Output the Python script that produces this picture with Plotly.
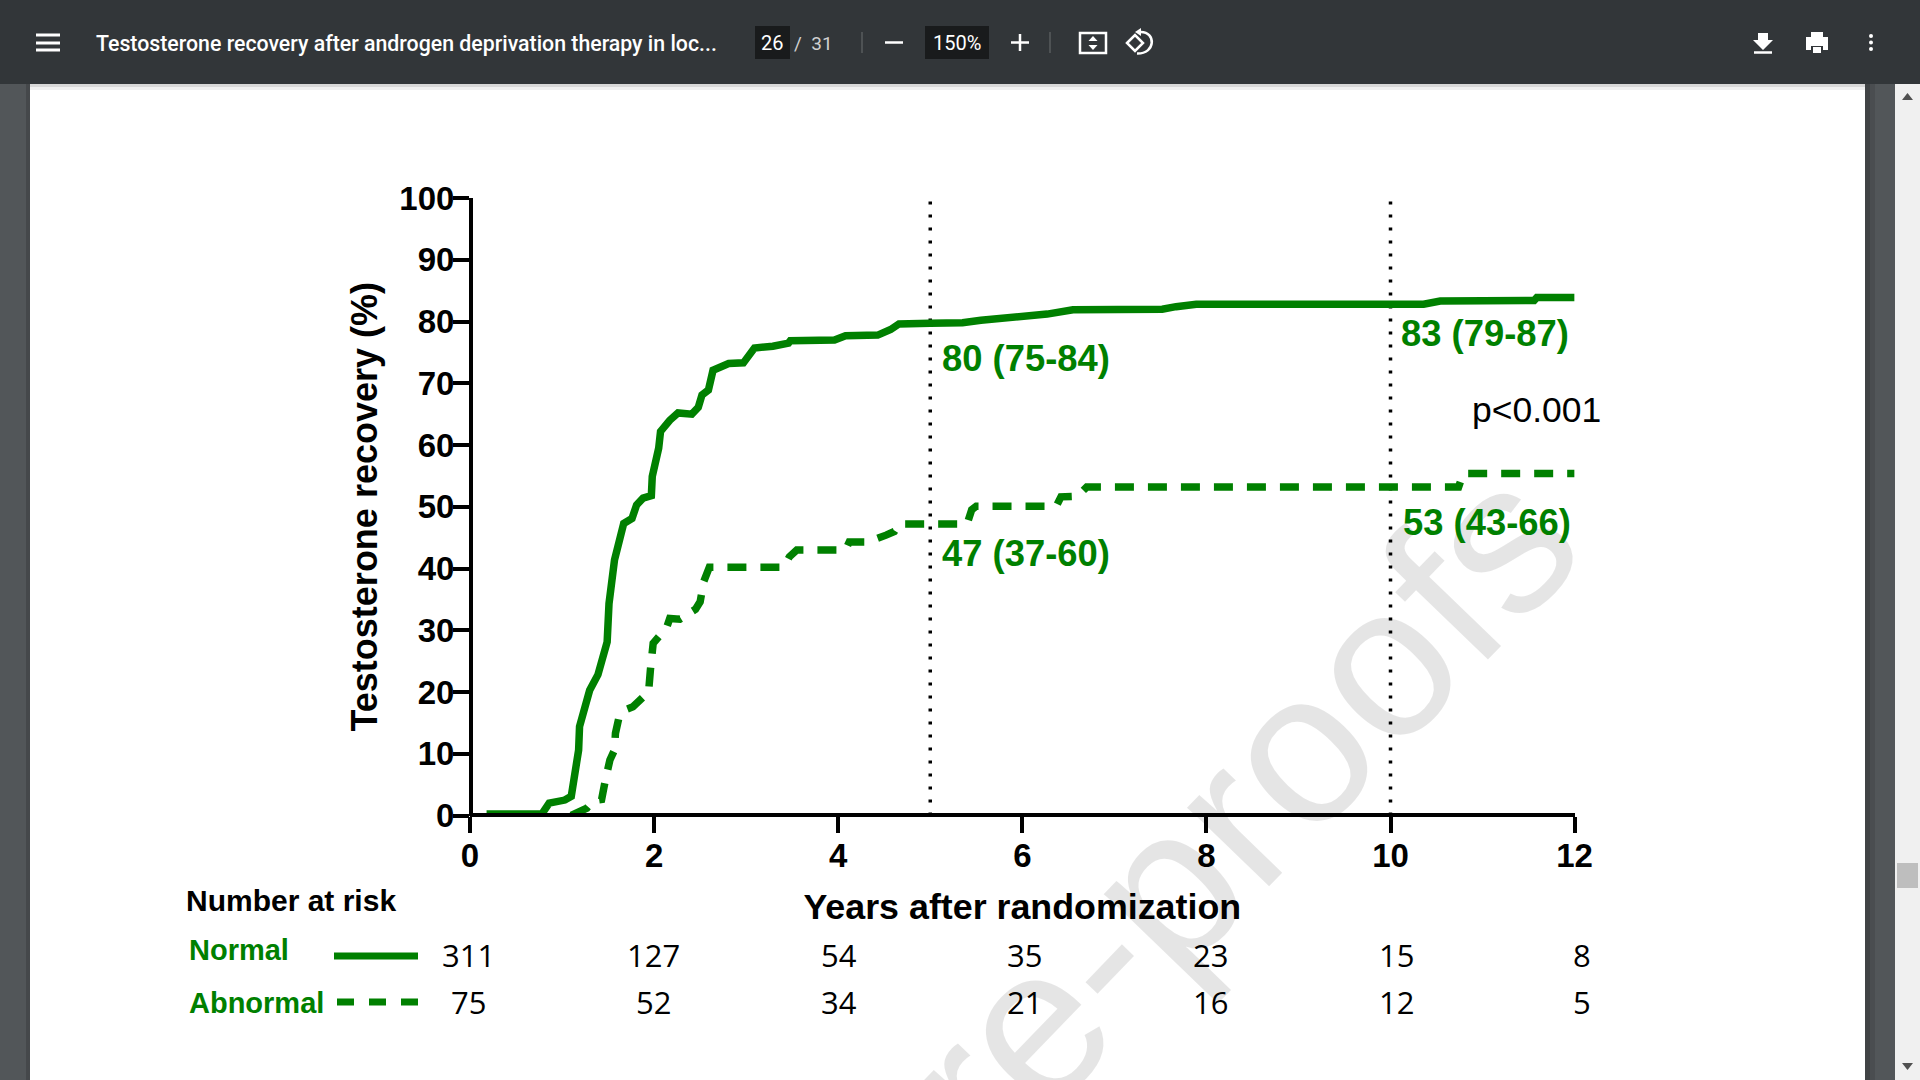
import plotly.graph_objects as go

# Normal curve
normal_years = [0.18, 0.78, 0.86, 1.03, 1.10, 1.14, 1.18, 1.19, 1.25, 1.30, 1.39, 1.46, 1.49, 1.51, 1.54, 1.57,
                1.67, 1.76, 1.81, 1.88, 1.97, 1.98, 2.05, 2.07, 2.17, 2.26, 2.41, 2.48, 2.52, 2.59, 2.64,
                2.81, 2.97, 3.09, 3.29, 3.46, 3.48, 3.96, 4.08, 4.43, 4.57, 4.66, 5.0, 5.35, 5.55, 6.02,
                6.27, 6.55, 7.52, 7.67, 7.89, 10.36, 10.54, 11.56, 11.59, 12.0]
normal_recovery = [0.24, 0.24, 2.0, 2.5, 3.1, 6.3, 10.6, 14.4, 18.2, 20.3, 22.8, 27.1, 28.1, 34.3, 37.1, 41.4,
                   47.3, 48.1, 50.3, 51.4, 51.8, 54.9, 59.5, 62.2, 64, 65.2, 65, 66.1, 68.1, 68.9, 72.1,
                   73.2, 73.3, 75.7, 76, 76.5, 76.9, 77, 77.7, 77.8, 78.7, 79.6, 79.7, 79.8, 80.2, 80.8,
                   81.2, 81.9, 82, 82.4, 82.8, 82.8, 83.3, 83.4, 83.9, 83.9]

# Abnormal curve
abnormal_years = [1.10, 1.19, 1.27, 1.34, 1.43, 1.47, 1.52, 1.57, 1.58, 1.62, 1.70, 1.77, 1.86, 1.94, 1.96, 1.99,
                  2.06, 2.14, 2.17, 2.28, 2.45, 2.5, 2.54, 2.6, 3.41, 3.47, 3.55, 4.08, 4.12, 4.32, 4.52, 4.61,
                  4.66, 5.4, 5.45, 5.5, 6.37, 6.42, 6.6, 6.7, 10.74, 10.79, 12.0]
abnormal_recovery = [0, 0.6, 1.2, 2.4, 2.6, 5.7, 9, 10.6, 13.3, 16, 17.2, 17.6, 18.7, 20, 23.6, 27.9,
                     29.1, 30.6, 31.9, 31.8, 33.4, 34.6, 37.9, 40.2, 40.2, 41.9, 43, 43, 44.3, 44.3, 45.4, 46,
                     47.2, 47.2, 49.5, 50.1, 50.1, 51.6, 51.7, 53.2, 53.2, 55.4, 55.4]

marker_years = [5, 10]
risk_years = [0, 2, 4, 6, 8, 10, 12]
risk_normal = [311, 127, 54, 35, 23, 15, 8]
risk_abnormal = [75, 52, 34, 21, 16, 12, 5]

GREEN = "#008000"
W, H = 1920, 1080


def px(x):
    return x / W


def py(y):
    return 1 - y / H


def box(x0, y0, x1, y1, color, layer="below"):
    return dict(type="rect", xref="paper", yref="paper", x0=px(x0), x1=px(x1), y0=py(y0), y1=py(y1),
                fillcolor=color, line_width=0, layer=layer)


def seg(x0, y0, x1, y1, color, width, dash="solid"):
    return dict(type="line", xref="paper", yref="paper", x0=px(x0), x1=px(x1), y0=py(y0), y1=py(y1),
                line=dict(color=color, width=width, dash=dash), layer="above")


def dot(x, y, r):
    return dict(type="circle", xref="paper", yref="paper", x0=px(x - r), x1=px(x + r), y0=py(y - r), y1=py(y + r),
                fillcolor="white", line_width=0, layer="above")


def poly(points, fill="white", outline=None):
    path = "M " + " L ".join(f"{px(x)} {py(y)}" for x, y in points) + " Z"
    line = dict(color=outline, width=2.5) if outline else dict(width=0)
    return dict(type="path", xref="paper", yref="paper", path=path, fillcolor=fill, line=line, layer="above")


def note(text, x, y, size, color="black", bold=False, family="Liberation Sans", anchor="center", pixel=True,
         angle=0, vanchor="middle", weight=None):
    # paper refs would push the margins, so page text goes on the hidden pixel axes
    if bold:
        text = "<b>" + text + "</b>"
    font = dict(size=size, color=color, family=family)
    if weight:
        font["weight"] = weight
    return dict(text=text, x=x, y=y, xref="x2" if pixel else "x", yref="y2" if pixel else "y",
                showarrow=False, xanchor=anchor, yanchor=vanchor, textangle=angle, font=font)


fig = go.Figure()

# dotted lines at 5 and 10 years
for year in marker_years:
    fig.add_trace(go.Scatter(x=[year, year], y=[0, 100], mode="lines",
                             line=dict(color="black", width=3.5, dash="3px,10px")))

fig.add_trace(go.Scatter(x=normal_years, y=normal_recovery, mode="lines", name="Normal",
                         line=dict(color=GREEN, width=7.5)))
fig.add_trace(go.Scatter(x=abnormal_years, y=abnormal_recovery, mode="lines", name="Abnormal",
                         line=dict(color=GREEN, width=7.5, dash="19px,14px")))
# keeps the pixel axes alive
fig.add_trace(go.Scatter(x=[0], y=[0], xaxis="x2", yaxis="y2", mode="markers", marker=dict(opacity=0),
                         hoverinfo="skip"))

shapes = [
    # pdf viewer background
    box(30, 84, 1865, 1080, "white"),
    box(30, 84, 1865, 87, "#D8D8D8"),
    box(30, 87, 1865, 90, "#F0F0F0"),
    box(26, 84, 30, 1080, "#45484B"),
    box(1865, 84, 1870, 1080, "#404345"),
    box(1870, 84, 1875, 1080, "#4A4D50"),
    box(1895, 84, 1920, 1080, "#F0F0F0"),
    box(1897, 863, 1918, 888, "#BEBEBE"),
    poly([(1907.5, 93), (1902, 100), (1913, 100)], "#505050"),
    poly([(1907.5, 1070), (1902, 1063), (1913, 1063)], "#505050"),
    # toolbar
    box(0, 0, 1920, 84, "#323639", "above"),
    box(755, 26, 790, 59, "#191B1C", "above"),
    box(925, 26, 989, 59, "#191B1C", "above"),
    seg(862, 32, 862, 53, "#6B6E70", 1),
    seg(1050, 32, 1050, 53, "#6B6E70", 1),
    # menu
    seg(36, 35, 60, 35, "white", 3), seg(36, 43, 60, 43, "white", 3), seg(36, 50, 60, 50, "white", 3),
    # zoom minus / plus
    seg(885, 42.5, 903, 42.5, "white", 2.5),
    seg(1011, 42.5, 1029, 42.5, "white", 2.5), seg(1020, 34, 1020, 51, "white", 2.5),
    # fit to page
    dict(type="rect", xref="paper", yref="paper", x0=px(1080), x1=px(1106), y0=py(33), y1=py(53),
         line=dict(color="white", width=2.5), layer="above"),
    poly([(1093, 36), (1088.5, 41), (1097.5, 41)]),
    poly([(1093, 50), (1088.5, 45), (1097.5, 45)]),
    # rotate
    poly([(1127, 43), (1135, 35), (1143, 43), (1135, 51)], "rgba(0,0,0,0)", "white"),
    dict(type="path", xref="paper", yref="paper", layer="above", line=dict(color="white", width=2.5),
         path=f"M {px(1141)} {py(32)} C {px(1156)} {py(32)} {px(1156)} {py(54)} {px(1137)} {py(53.5)}"),
    poly([(1135, 32), (1141, 28), (1141, 36)]),
    # download
    dict(type="path", xref="paper", yref="paper", layer="above", fillcolor="white", line_width=0,
         path=f"M {px(1758)} {py(33)} L {px(1768)} {py(33)} L {px(1768)} {py(40)} L {px(1773)} {py(40)} "
              f"L {px(1763)} {py(50)} L {px(1753)} {py(40)} L {px(1758)} {py(40)} Z"),
    seg(1754, 52.5, 1772, 52.5, "white", 2.5),
    # print
    box(1806, 37, 1828, 50, "white", "above"),
    box(1811, 32, 1823, 37, "white", "above"),
    box(1811, 46, 1823, 53, "#323639", "above"),
    box(1813, 47, 1821, 53, "white", "above"),
    # more
    dot(1871, 36, 2), dot(1871, 42.5, 2), dot(1871, 49, 2),
    # legend samples next to the number at risk rows
    seg(334, 956, 418, 956, GREEN, 7),
    seg(337, 1002, 418, 1002, GREEN, 7, "17px,15px"),
]

annotations = [
    # watermark, mostly off the page
    note("Journal Pre-proofs", 1627, 415, 215, color="rgba(0,0,0,0.1)", angle=-46, anchor="right", vanchor="top"),
    # toolbar text
    note("Testosterone recovery after androgen deprivation therapy in loc...", 94, 43, 21.3, "white",
         family="Roboto", anchor="left", weight=500),
    note("26", 772, 43, 20, "white", family="Roboto"),
    note("/  31", 813, 43, 19, "#D0D0D0", family="Roboto"),
    note("150%", 957, 43, 20, "white", family="Roboto"),
    # estimates at 5 and 10 years
    note("80 (75-84)", 6.04, 74, 36.4, GREEN, True, pixel=False),
    note("47 (37-60)", 6.04, 42.5, 36.4, GREEN, True, pixel=False),
    note("83 (79-87)", 11.03, 78, 36.4, GREEN, True, pixel=False),
    note("53 (43-66)", 11.05, 47.4, 36.4, GREEN, True, pixel=False),
    note("p&lt;0.001", 11.59, 65.7, 35.5, pixel=False),
    # number at risk table
    note("Number at risk", 290.5, 900, 30, bold=True),
    note("Normal", 187, 950, 29, GREEN, True, anchor="left"),
    note("Abnormal", 187, 1003, 29, GREEN, True, anchor="left"),
]

# table columns in the source run slightly wider than the axis
for year, n1, n2 in zip(risk_years, risk_normal, risk_abnormal):
    col = 468 + year * 92.8
    annotations.append(note(str(n1), col, 955, 31, family="Open Sans"))
    annotations.append(note(str(n2), col, 1002, 31, family="Open Sans"))

fig.update_layout(
    width=W, height=H, autosize=False,
    margin=dict(l=0, r=0, t=0, b=0),
    paper_bgcolor="#525659", plot_bgcolor="rgba(0,0,0,0)",
    showlegend=False,
    shapes=shapes, annotations=annotations,
    font=dict(family="Liberation Sans", color="black"),
    modebar=dict(bgcolor="rgba(0,0,0,0)", color="rgba(0,0,0,0)", activecolor="rgba(0,0,0,0)"),
    # free anchors so the thick axis lines sit centred on zero
    xaxis=dict(domain=[px(470), px(1574.6)], range=[0, 12], dtick=2, showgrid=False, zeroline=False, automargin=False,
               anchor="free", position=py(815),
               showline=True, linecolor="black", linewidth=4, ticks="outside", ticklen=16, tickwidth=4,
               tickcolor="black", tickfont=dict(size=33), tickprefix="<b>", ticksuffix="</b>", ticklabelstandoff=-6,
               title=dict(text="<b>Years after randomization</b>", font=dict(size=35.8), standoff=20)),
    yaxis=dict(domain=[py(815.5), py(198)], range=[0, 100], dtick=10, showgrid=False, zeroline=False, automargin=False,
               anchor="free", position=px(471),
               showline=True, linecolor="black", linewidth=4, ticks="outside", ticklen=16, tickwidth=4,
               tickcolor="black", tickfont=dict(size=33), tickprefix="<b>", ticksuffix="</b>", ticklabelstandoff=-8,
               title=dict(text="<b>Testosterone recovery (%)</b>", font=dict(size=36), standoff=10)),
    xaxis2=dict(domain=[0, 1], range=[0, W], visible=False, anchor="y2", automargin=False),
    yaxis2=dict(domain=[0, 1], range=[H, 0], visible=False, anchor="x2", automargin=False),
)

fig.write_html("out.html", post_script="document.body.style.margin='0';", config={"displayModeBar": False})
